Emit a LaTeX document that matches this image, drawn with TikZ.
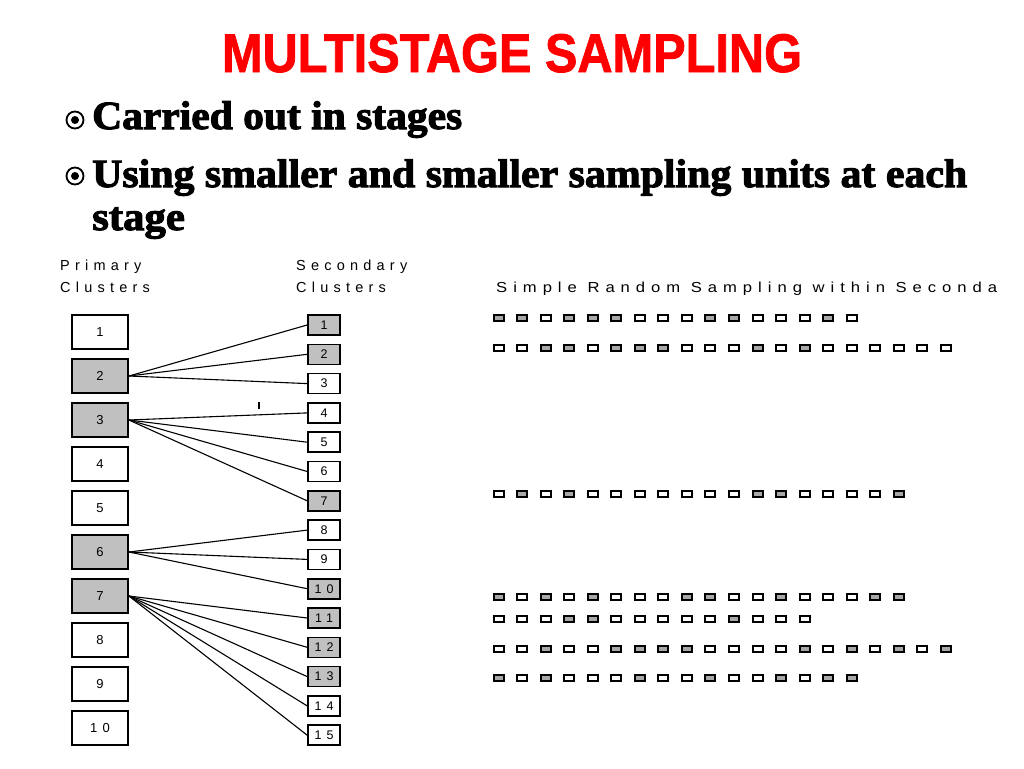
\documentclass[tikz,border=0pt]{standalone}
\usepackage{fontspec}
\setmainfont{Liberation Serif}
\setsansfont{Liberation Sans}
\newfontfamily\titlefont[FakeBold=1.5]{Liberation Sans}
\newfontfamily\bulletfont[FakeBold=2.5]{Liberation Serif}
\newfontfamily\spacedfont[LetterSpace=36]{Liberation Sans}
\newfontfamily\digitfont[LetterSpace=40]{Liberation Sans}
\definecolor{boxgray}{HTML}{C0C0C0}
\definecolor{sq0}{HTML}{FFFFFF}
\definecolor{sq1}{HTML}{A8A8A8}
\tikzset{
  prim/.style={draw=black, line width=1.8pt, minimum width=56pt, minimum height=34pt, inner sep=0pt, font=\digitfont\fontsize{13}{13}\selectfont},
  sec/.style={draw=black, line width=1.6pt, minimum width=32pt, minimum height=20pt, inner sep=0pt, font=\digitfont\fontsize{12.5}{12.5}\selectfont},
  sqbox/.style={draw=black, line width=2pt, minimum width=10pt, minimum height=6pt, inner sep=0pt},
  conn/.style={draw=black, line width=1.1pt},
  hdr/.style={anchor=base west, inner sep=0pt, font=\spacedfont\fontsize{14.5}{14.5}\selectfont},
  bullettext/.style={anchor=base west, inner sep=0pt, font=\bulletfont\bfseries\fontsize{40}{40}\selectfont}
}
\begin{document}
\begin{tikzpicture}[x=1pt,y=-1pt]
\useasboundingbox[fill=white] (0,0) rectangle (1024,768);

% title
\node[anchor=base, inner sep=0pt, text=red] (title) at (512,72)
  {\resizebox{580pt}{38pt}{\titlefont\bfseries MULTISTAGE SAMPLING}};

% bullets
\foreach \yy in {120,176}{
  \draw[line width=1.8pt] (75,\yy) circle (8.5);
  \fill (75,\yy) circle (4);
}
\node[bullettext] (b1) at (92,129) {\resizebox{370pt}{\height}{Carried out in stages}};
\node[bullettext] (b2) at (92,187) {\resizebox{875pt}{\height}{Using smaller and smaller sampling units at each}};
\node[bullettext] (b3) at (92,230) {\scalebox{1.07}[1]{stage}};

% headers
\node[hdr] (h1) at (60,270.5) {Primary};
\node[hdr] (h2) at (60,292.5) {Clusters};
\node[hdr] (h3) at (296,270.5) {Secondary};
\node[hdr] (h4) at (296,292.5) {Clusters};
\node[hdr] (h5) at (496,292.5) {\resizebox{501pt}{\height}{Simple Random Sampling within Seconda}};

% primary clusters
\foreach \i in {1,...,10}{
  \pgfmathsetmacro{\yy}{332+44*(\i-1)}
  \node[prim, fill=white] (p\i) at (100,\yy) {\i};
}
\foreach \i in {2,3,6,7}{
  \pgfmathsetmacro{\yy}{332+44*(\i-1)}
  \node[prim, fill=boxgray] (p\i) at (100,\yy) {\i};
}

% secondary clusters
\foreach \j in {1,...,15}{
  \pgfmathsetmacro{\yy}{325+29.3*(\j-1)}
  \node[sec, fill=white] (s\j) at (324,\yy) {\j};
}
\foreach \j in {1,2,7,10,11,12,13}{
  \pgfmathsetmacro{\yy}{325+29.3*(\j-1)}
  \node[sec, fill=boxgray] (s\j) at (324,\yy) {\j};
}

% connectors
\foreach \p/\s in {2/1,2/2,2/3,3/4,3/5,3/6,3/7,6/8,6/9,6/10,7/11,7/12,7/13,7/14,7/15}{
  \draw[conn] (p\p.east) -- (s\s.west);
}

% stray tick
\draw[line width=1.3pt] (259,402) -- (259,409);

% simple random sampling rows
\foreach \r/\yy/\pat in {
  1/318.3/{1,1,0,1,1,1,0,0,0,1,1,0,0,0,1,0},
  2/347.5/{0,0,1,1,0,1,1,1,0,0,0,1,0,1,0,0,0,0,0,0},
  3/494/{0,1,0,1,0,0,0,0,0,0,0,1,1,0,0,0,0,1},
  4/596.5/{1,0,1,0,1,0,0,0,1,1,0,0,1,0,0,0,1,1},
  5/619.3/{0,0,0,1,1,0,0,0,0,0,1,0,0,0},
  6/648.5/{0,0,1,0,0,1,1,1,1,0,0,0,0,1,0,1,0,1,0,1},
  7/678/{1,0,1,0,0,0,1,0,0,1,0,0,1,0,1,1}}{
  \foreach \g [count=\i from 0] in \pat {
    \node[sqbox, fill=sq\g] (r\r-\i) at ({498.5+23.55*\i},\yy) {};
  }
}
\end{tikzpicture}
\end{document}
